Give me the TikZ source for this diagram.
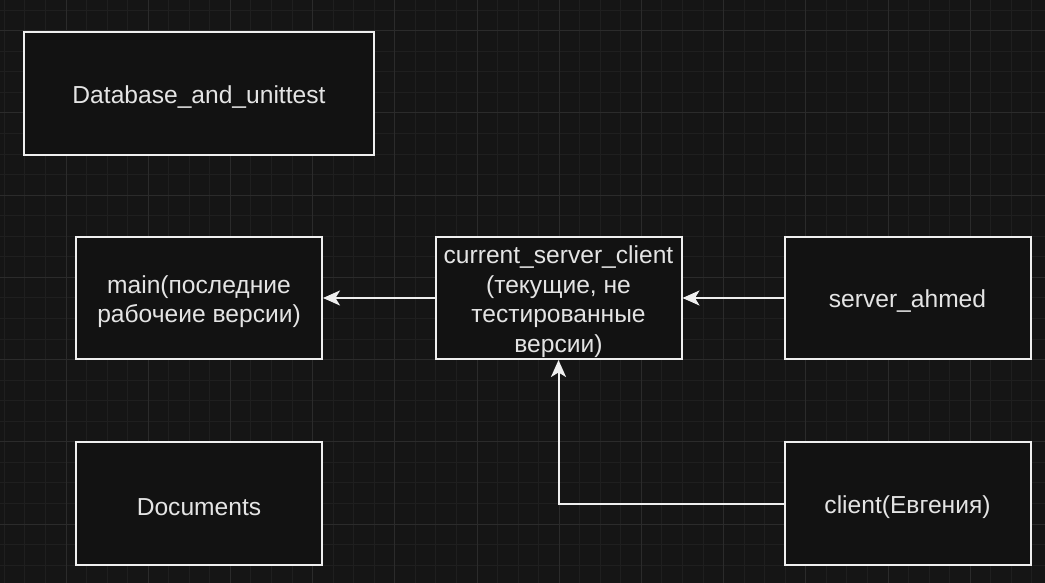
\documentclass[tikz,border=0pt]{standalone}
\usepackage{fontspec}
\setmainfont{Liberation Sans}
\usetikzlibrary{arrows.meta}
\definecolor{bgc}{HTML}{151515}
\definecolor{gridminor}{HTML}{1F1F1F}
\definecolor{gridmajor}{HTML}{2B2B2B}
\definecolor{boxfill}{HTML}{121212}
\definecolor{boxline}{HTML}{EFEFEF}
\definecolor{txt}{HTML}{E4E4E4}
\tikzset{
  box/.style={draw=boxline, fill=boxfill, line width=2pt, rectangle, inner sep=0pt,
    minimum width=246pt, minimum height=122pt},
  boxtext/.style={align=center, text=txt, inner sep=0pt, yshift=-3.5pt,
    font=\fontsize{24.6}{29.5}\selectfont},
  conn/.style={draw=boxline, line width=2pt, -{Stealth[length=17pt,width=15pt,inset=4.5pt]}},
  minorline/.style={draw=gridminor, line width=1pt},
  majorline/.style={draw=gridmajor, line width=1pt}
}
\begin{document}
\begin{tikzpicture}[x=1pt,y=-1pt]
\useasboundingbox (0,0) rectangle (1045,583);
\fill[bgc] (0,0) rectangle (1045,583);
% grid
\foreach \k in {-4,...,48} {
  \pgfmathsetmacro{\gx}{66+20.55*\k}
  \draw[minorline] (\gx,0) -- (\gx,583);
}
\foreach \k in {-2,...,27} {
  \pgfmathsetmacro{\gy}{30.8+20.55*\k}
  \draw[minorline] (0,\gy) -- (1045,\gy);
}
\foreach \k in {-1,...,12} {
  \pgfmathsetmacro{\gx}{66+82.2*\k}
  \draw[majorline] (\gx,0) -- (\gx,583);
}
\foreach \k in {-1,...,7} {
  \pgfmathsetmacro{\gy}{30.8+82.2*\k}
  \draw[majorline] (0,\gy) -- (1045,\gy);
}
% boxes
\node[box, minimum width=350pt, minimum height=123pt,
  label={[boxtext]center:Database\_and\_unittest}] (db) at (199,93.5) {};
\node[box, label={[boxtext]center:main(последние\\рабочеие версии)}] (main) at (199,298) {};
\node[box, label={[boxtext]center:current\_server\_client\\(текущие, не\\тестированные\\версии)}] (current) at (558.5,298) {};
\node[box, label={[boxtext]center:server\_ahmed}] (server) at (907.5,298) {};
\node[box, minimum height=123pt, label={[boxtext]center:Documents}] (docs) at (199,503.5) {};
\node[box, minimum height=123pt, label={[boxtext]center:client(Евгения)}] (client) at (907.5,503.5) {};
% connectors
\draw[conn] (server.west) -- (current.east);
\draw[conn] (current.west) -- (main.east);
\draw[conn] (client.west) -| (current.south);
\end{tikzpicture}
\end{document}
